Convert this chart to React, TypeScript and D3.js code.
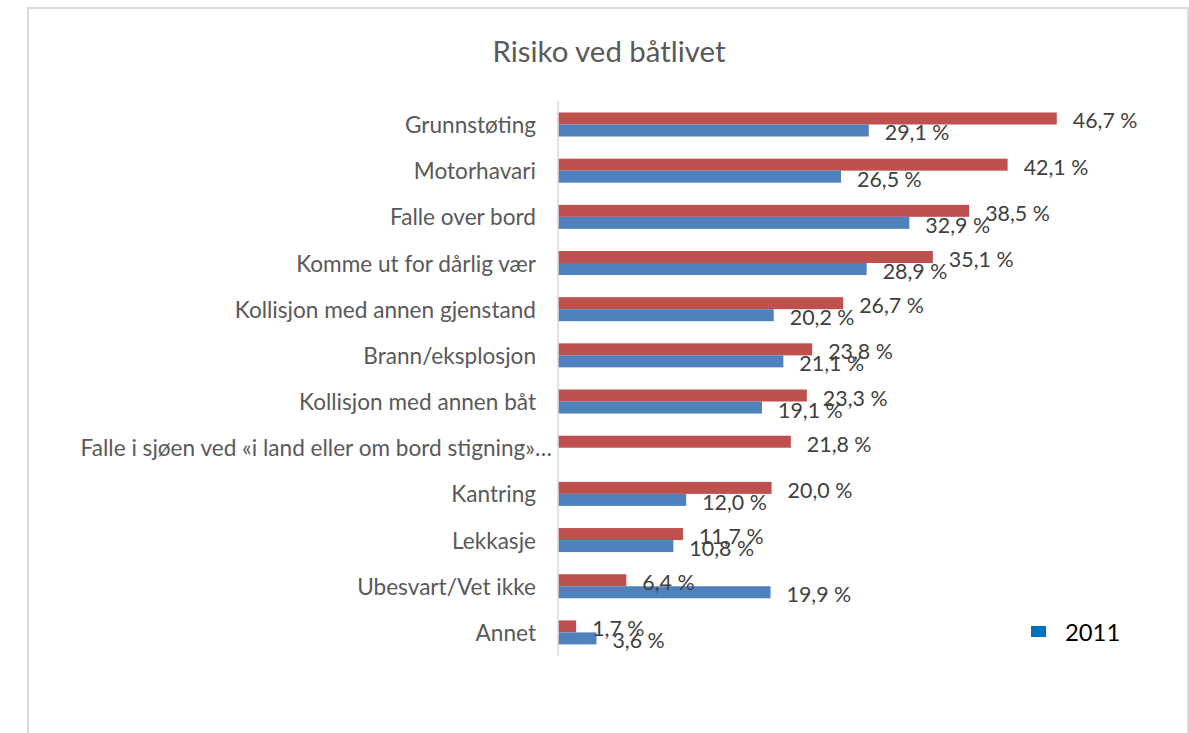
import React from "react";
import * as d3 from "d3";

const categories = [
  "Grunnstøting",
  "Motorhavari",
  "Falle over bord",
  "Komme ut for dårlig vær",
  "Kollisjon med annen gjenstand",
  "Brann/eksplosjon",
  "Kollisjon med annen båt",
  "Falle i sjøen ved «i land eller om bord stigning»…",
  "Kantring",
  "Lekkasje",
  "Ubesvart/Vet ikke",
  "Annet",
];

const seriesRed: (number | null)[] = [46.7, 42.1, 38.5, 35.1, 26.7, 23.8, 23.3, 21.8, 20.0, 11.7, 6.4, 1.7];
const series2011: (number | null)[] = [29.1, 26.5, 32.9, 28.9, 20.2, 21.1, 19.1, null, 12.0, 10.8, 19.9, 3.6];

const seriesKeys = ["annen", "2011"];
const seriesColors = ["#C0504D", "#4F81BD"];
const legendLabels = ["2011"];
const legendColors = ["#0070C0"];

const title = "Risiko ved båtlivet";

const W = 1189;
const H = 733;
const FONT = "Lato, 'Open Sans', sans-serif";

const fmt = (v: number) => d3.format(".1f")(v).replace(".", ",") + " %";

export default function App() {
  const x = d3.scaleLinear().domain([0, 50]).range([558, 1092]);
  const y = d3
    .scaleBand<string>()
    .domain(categories)
    .range([101.4, 655.5])
    .paddingInner(0.48)
    .paddingOuter(0.24);
  const inner = d3
    .scaleBand<string>()
    .domain(seriesKeys)
    .range([0, y.bandwidth()]);

  const allSeries = [seriesRed, series2011];

  return (
    <svg
      width={W}
      height={H}
      style={{ position: "absolute", left: 0, top: 0, background: "#fff" }}
      fontFamily={FONT}
    >
      <rect x={0} y={0} width={W} height={H} fill="#fff" />
      <rect x={28} y={8} width={1160} height={760} fill="#fff" stroke="#D9D9D9" strokeWidth={2} />
      <text x={609} y={50} textAnchor="middle" dominantBaseline="central" fontSize={29.4} fill="#595959">
        {title}
      </text>

      {categories.map((c) => (
        <text
          key={c}
          x={c.endsWith("…") ? 552 : 536}
          y={(y(c) ?? 0) + y.bandwidth() / 2}
          textAnchor="end"
          dominantBaseline="central"
          fontSize={22.6}
          fill="#595959"
        >
          {c}
        </text>
      ))}

      {allSeries.map((vals, si) =>
        vals.map((v, i) => {
          if (v == null) return null;
          const c = categories[i];
          const yy = (y(c) ?? 0) + (inner(seriesKeys[si]) ?? 0);
          return (
            <rect
              key={`b-${si}-${i}`}
              x={x(0)}
              y={yy}
              width={x(v) - x(0)}
              height={inner.bandwidth()}
              fill={seriesColors[si]}
            />
          );
        })
      )}

      <line x1={x(0)} x2={x(0)} y1={101.4} y2={655.5} stroke="#D9D9D9" strokeWidth={1.5} />

      {allSeries.map((vals, si) =>
        vals.map((v, i) => {
          if (v == null) return null;
          const c = categories[i];
          const yy = (y(c) ?? 0) + (inner(seriesKeys[si]) ?? 0) + inner.bandwidth() / 2 + 2;
          return (
            <text
              key={`l-${si}-${i}`}
              x={x(v) + 16}
              y={yy}
              dominantBaseline="central"
              fontSize={21.4}
              fill="#404040"
            >
              {fmt(v)}
            </text>
          );
        })
      )}

      {legendLabels.map((l, i) => (
        <g key={l}>
          <rect x={1031} y={626 + i * 30} width={15} height={11} fill={legendColors[i]} />
          <text x={1065} y={631.5 + i * 30} dominantBaseline="central" fontSize={23.8} fill="#000">
            {l}
          </text>
        </g>
      ))}
    </svg>
  );
}
